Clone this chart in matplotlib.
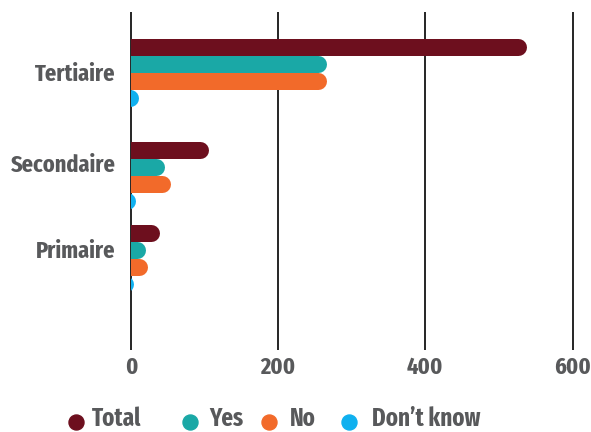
import matplotlib
matplotlib.use('Agg')
from matplotlib import pyplot as plt
from matplotlib.lines import Line2D
from matplotlib.patches import Rectangle

# =================================
# Horizontal grouped bars with rounded ends
# =================================
levels = ['Tertiaire', 'Secondaire', 'Primaire']
series = ['Total', 'Yes', 'No', 'Don\u2019t know']
total = [538, 106, 39]
yes = [266, 45, 20]
no = [266, 54, 22]
dont_know = [10, 6, 4]
xticks = [0, 200, 400, 600]

colors = ['#6d0f1e', '#1aa8a6', '#f26a2a', '#0fb0ef']
text_color = '#58595b'
font = ['Fira Sans Extra Condensed', 'Fira Sans Condensed', 'Roboto', 'DejaVu Sans']

# layout (pixel rows/cols on a 591x432 canvas)
W, H = 591, 432
group_top = [39, 141.5, 224]
label_row = [72, 163, 249]
bar_px = 17
px_per_unit = 441.5 / 600
legend_marker_x = [76, 190, 269, 349]
legend_text_x = [92, 209, 290, 372]
legend_marker_y = 422
legend_text_y = 419

fig = plt.figure(figsize=(W / 100, H / 100), dpi=100)
x_lo, x_hi = -20, 620
ax_left = 131 + x_lo * px_per_unit
ax_right = 131 + x_hi * px_per_unit
ax = fig.add_axes([ax_left / W, (H - 350) / H,
                   (ax_right - ax_left) / W, 338 / H])
ax.set_xlim(x_lo, x_hi)
ax.set_ylim(350, 12)

# bars can't go left of zero
clip = Rectangle((0, 0), 10000, 1000, transform=ax.transData)

cap = (bar_px / 2) / px_per_unit  # cap radius in data units
lw = bar_px * 72 / 100
for j, vals in enumerate([total, yes, no, dont_know]):
    for i, v in enumerate(vals):
        y = group_top[i] + bar_px / 2 + bar_px * j
        ln, = ax.plot([-3 * cap, v - cap], [y, y], color=colors[j], lw=lw,
                      solid_capstyle='round', zorder=3)
        ln.set_clip_path(clip)

for x in xticks:
    ax.axvline(x, color='black', lw=1.2, zorder=1)

for s in ax.spines.values():
    s.set_visible(False)
ax.set_xticks(xticks)
ax.set_xticklabels([str(x) for x in xticks])
ax.set_yticks(label_row)
ax.set_yticklabels(levels)
ax.tick_params(length=0, colors=text_color)
ax.tick_params(axis='x', pad=4)
ax.tick_params(axis='y', pad=0.5)
for lab in ax.get_xticklabels() + ax.get_yticklabels():
    lab.set_family(font)
    lab.set_fontweight('bold')
    lab.set_fontsize(17.5)

# legend row
for c, mx, tx, name in zip(colors, legend_marker_x, legend_text_x, series):
    fig.add_artist(Line2D([mx / W], [1 - legend_marker_y / H], marker='o', ls='',
                          markersize=10.8, markerfacecolor=c, markeredgecolor=c,
                          transform=fig.transFigure))
    fig.text(tx / W, 1 - legend_text_y / H, name, ha='left', va='center',
             family=font, fontweight='bold', fontsize=18, color=text_color)

fig.savefig('out.png', dpi=100)
